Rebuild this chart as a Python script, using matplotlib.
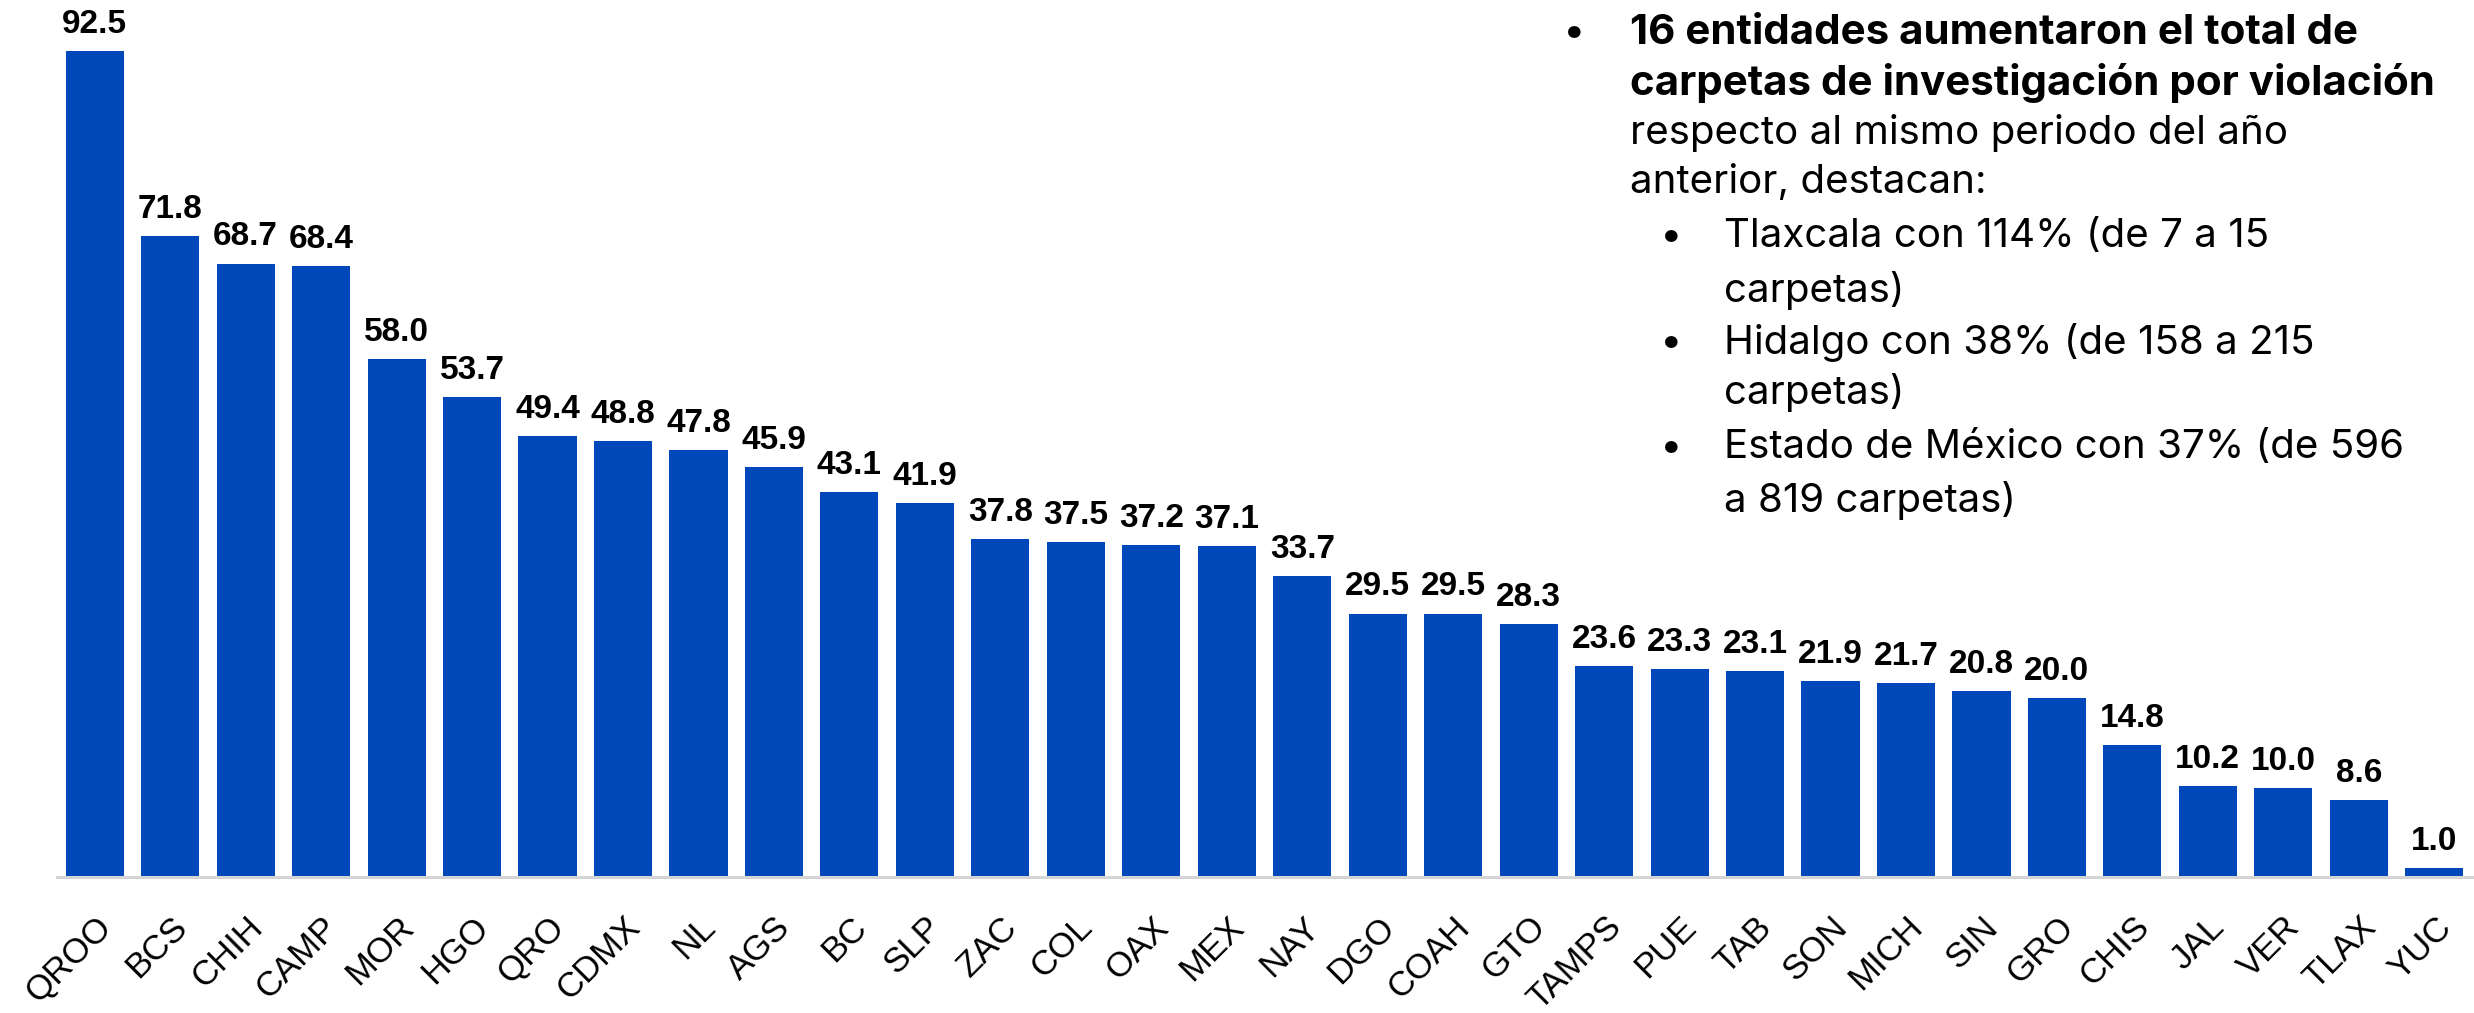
import matplotlib
matplotlib.use("Agg")
import matplotlib.pyplot as plt

# ---- data ----
states = ["QROO", "BCS", "CHIH", "CAMP", "MOR", "HGO", "QRO", "CDMX", "NL", "AGS",
          "BC", "SLP", "ZAC", "COL", "OAX", "MEX", "NAY", "DGO", "COAH", "GTO",
          "TAMPS", "PUE", "TAB", "SON", "MICH", "SIN", "GRO", "CHIS", "JAL", "VER",
          "TLAX", "YUC"]
values = [92.5, 71.8, 68.7, 68.4, 58.0, 53.7, 49.4, 48.8, 47.8, 45.9,
          43.1, 41.9, 37.8, 37.5, 37.2, 37.1, 33.7, 29.5, 29.5, 28.3,
          23.6, 23.3, 23.1, 21.9, 21.7, 20.8, 20.0, 14.8, 10.2, 10.0,
          8.6, 1.0]

bold_lines = ["16 entidades aumentaron el total de",
              "carpetas de investigación por violación"]
normal_lines = ["respecto al mismo periodo del año",
                "anterior, destacan:"]
sub_bullets = [["Tlaxcala con 114% (de 7 a 15", "carpetas)"],
               ["Hidalgo con 38% (de 158 a 215", "carpetas)"],
               ["Estado de México con 37% (de 596", "a 819 carpetas)"]]

W, H = 2474, 1013
DPI = 100
fig = plt.figure(figsize=(W / DPI, H / DPI), dpi=DPI)
fig.patch.set_facecolor("white")

left_px, right_px, base_px = 57, 2472, 877
ytop = 95.0
px_per_unit = (877 - 51) / 92.5
ax = fig.add_axes([left_px / W, (H - base_px) / H, (right_px - left_px) / W,
                   ytop * px_per_unit / H])

bar_color = "#0048BA"
x = list(range(len(states)))
ax.bar(x, values, width=0.77, color=bar_color, zorder=2)

ax.set_xlim(-0.5, len(states) - 0.5)
ax.set_ylim(0, ytop)

for s in ["top", "right", "left"]:
    ax.spines[s].set_visible(False)
ax.spines["bottom"].set_color("#D4D4D4")
ax.spines["bottom"].set_linewidth(2.2)
ax.set_yticks([])
ax.set_xticks(x)
ax.set_xticklabels(states, rotation=45, ha="right", va="top",
                   rotation_mode="anchor", fontsize=25,
                   family=["Liberation Sans", "DejaVu Sans"])
ax.tick_params(axis="x", length=0, pad=24)

for xi, v in zip(x, values):
    ax.annotate(f"{v:.1f}", xy=(xi, v), xytext=(0, 8), textcoords="offset points",
                ha="center", va="bottom", fontsize=24, fontweight="bold",
                family=["Liberation Sans", "DejaVu Sans"], clip_on=False)

# ---- text block ----
fam = ["Inter", "DejaVu Sans"]
fs_b = 30.3
fs = 29
def fy(py):
    return 1 - py / H
def fx(px):
    return px / W

line_y = [33, 83, 133, 183, 237, 290, 343, 393, 447, 500]
bx, tx, sbx, stx = 1574, 1630, 1671, 1724

fig.text(fx(bx), fy(line_y[0]), "•", fontsize=fs, family=fam, va="center", ha="center")
fig.text(fx(tx), fy(line_y[0]), bold_lines[0], fontsize=fs_b, family=fam,
         fontweight="bold", va="center", ha="left")
fig.text(fx(tx), fy(line_y[1]), bold_lines[1], fontsize=fs_b, family=fam,
         fontweight="bold", va="center", ha="left")
fig.text(fx(tx), fy(line_y[2]), normal_lines[0], fontsize=fs, family=fam,
         va="center", ha="left")
fig.text(fx(tx), fy(line_y[3]), normal_lines[1], fontsize=fs, family=fam,
         va="center", ha="left")
k = 4
for item in sub_bullets:
    fig.text(fx(sbx), fy(line_y[k]), "•", fontsize=fs, family=fam, va="center", ha="center")
    for ln in item:
        fig.text(fx(stx), fy(line_y[k]), ln, fontsize=fs, family=fam,
                 va="center", ha="left")
        k += 1

fig.savefig("out.png", dpi=DPI, facecolor="white")
